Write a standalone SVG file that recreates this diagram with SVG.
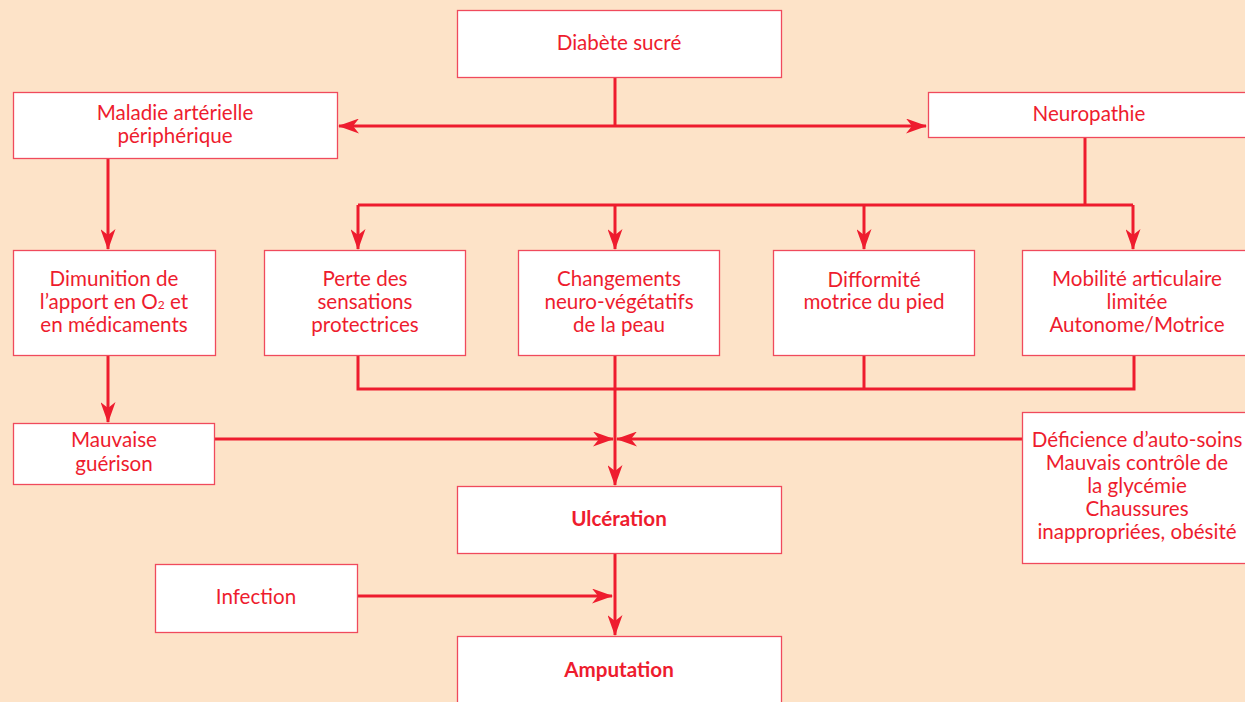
<svg xmlns="http://www.w3.org/2000/svg" width="1245" height="702" viewBox="0 0 1245 702">
<defs>
<style>
.bg{fill:#FDE3C8}
.box{fill:#fff;stroke:#F04A5C;stroke-width:1.3}
.t{font-family:Lato,"Open Sans","Liberation Sans",sans-serif;font-size:20.6px;fill:#EE1C2E;text-anchor:middle}
.b{font-weight:bold}
.ln{fill:none;stroke:#EE1C2E;stroke-width:3}
</style>
<marker id="ah" markerUnits="userSpaceOnUse" markerWidth="21" markerHeight="15" refX="20" refY="7.5" orient="auto-start-reverse" viewBox="0 0 21 15">
<path d="M0,0 L21,7.5 L0,15 L6,7.5 z" fill="#EE1C2E"/>
</marker>
</defs>
<rect class="bg" x="0" y="0" width="1245" height="702"/>
<g id="connectors">
<path class="ln" d="M615,77 V126"/>
<path class="ln" d="M339,126 H926" marker-start="url(#ah)" marker-end="url(#ah)"/>
<path class="ln" d="M108,158 V249" marker-end="url(#ah)"/>
<path class="ln" d="M1085,137 V205"/>
<path class="ln" d="M358,205 H1133"/>
<path class="ln" d="M358,205 V249" marker-end="url(#ah)"/>
<path class="ln" d="M615,205 V249" marker-end="url(#ah)"/>
<path class="ln" d="M864,205 V249" marker-end="url(#ah)"/>
<path class="ln" d="M1133,205 V249" marker-end="url(#ah)"/>
<path class="ln" d="M358,355 V389 H1134 V355"/>
<path class="ln" d="M864,355 V389"/>
<path class="ln" d="M615,355 V485" marker-end="url(#ah)"/>
<path class="ln" d="M108,355 V422" marker-end="url(#ah)"/>
<path class="ln" d="M215,439 H613" marker-end="url(#ah)"/>
<path class="ln" d="M1022,439 H617" marker-end="url(#ah)"/>
<path class="ln" d="M357,596 H612" marker-end="url(#ah)"/>
<path class="ln" d="M615,553 V635" marker-end="url(#ah)"/>
</g>
<g id="diabete"><rect class="box" x="457.5" y="10.5" width="324" height="67"/><text class="t" x="619" y="50">Diabète sucré</text></g>
<g id="maladie"><rect class="box" x="13.5" y="92.5" width="324" height="66"/><text class="t" x="175" y="120">Maladie artérielle</text><text class="t" x="175" y="143">périphérique</text></g>
<g id="neuropathie"><rect class="box" x="928.5" y="92.5" width="330" height="45"/><text class="t" x="1089" y="121">Neuropathie</text></g>
<g id="dimunition"><rect class="box" x="13.5" y="250.5" width="202" height="105"/><text class="t" x="114" y="286">Dimunition de</text><text class="t" x="114" y="309">l’apport en O<tspan font-size="12">2</tspan> et</text><text class="t" x="114" y="332">en médicaments</text></g>
<g id="perte"><rect class="box" x="264.5" y="250.5" width="201" height="105"/><text class="t" x="365" y="286">Perte des</text><text class="t" x="365" y="309">sensations</text><text class="t" x="365" y="332">protectrices</text></g>
<g id="changements"><rect class="box" x="518.5" y="250.5" width="201" height="105"/><text class="t" x="619" y="286">Changements</text><text class="t" x="619" y="309">neuro-végétatifs</text><text class="t" x="619" y="332">de la peau</text></g>
<g id="difformite"><rect class="box" x="773.5" y="250.5" width="201" height="105"/><text class="t" x="874" y="287">Difformité</text><text class="t" x="874" y="309">motrice du pied</text></g>
<g id="mobilite"><rect class="box" x="1022.5" y="250.5" width="230" height="105"/><text class="t" x="1137" y="286">Mobilité articulaire</text><text class="t" x="1137" y="309">limitée</text><text class="t" x="1137" y="332">Autonome/Motrice</text></g>
<g id="mauvaise"><rect class="box" x="13.5" y="423.5" width="201" height="61"/><text class="t" x="114" y="447">Mauvaise</text><text class="t" x="114" y="471">guérison</text></g>
<g id="deficience"><rect class="box" x="1022.5" y="412.5" width="230" height="151"/><text class="t" x="1137" y="447">Déficience d’auto-soins</text><text class="t" x="1137" y="470">Mauvais contrôle de</text><text class="t" x="1137" y="493">la glycémie</text><text class="t" x="1137" y="516">Chaussures</text><text class="t" x="1137" y="539">inappropriées, obésité</text></g>
<g id="ulceration"><rect class="box" x="457.5" y="486.5" width="324" height="67"/><text class="t b" x="619" y="526">Ulcération</text></g>
<g id="infection"><rect class="box" x="155.5" y="564.5" width="202" height="68"/><text class="t" x="256" y="604">Infection</text></g>
<g id="amputation"><rect class="box" x="457.5" y="636.5" width="324" height="80"/><text class="t b" x="619" y="677">Amputation</text></g>
</svg>
